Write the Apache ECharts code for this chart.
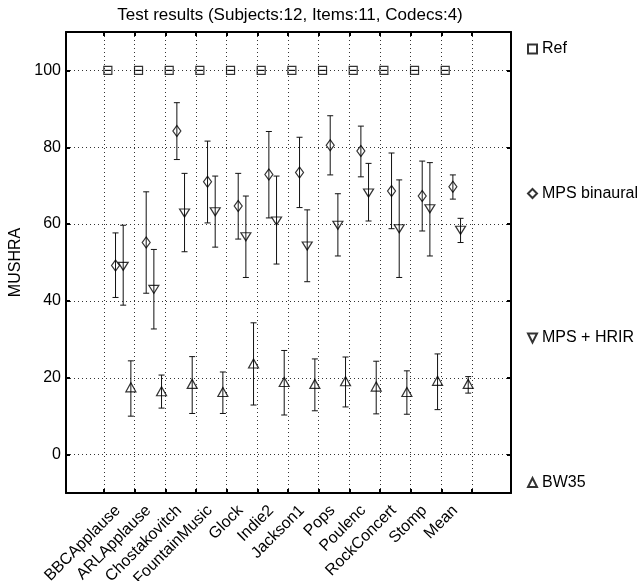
<!DOCTYPE html>
<html>
<head>
<meta charset="utf-8">
<script src="https://cdn.jsdelivr.net/npm/echarts@6/dist/echarts.min.js"></script>
<style>
  html, body { margin: 0; padding: 0; background: #fff; }
  #chart { width: 639px; height: 581px; }
</style>
</head>
<body>
<div id="chart"></div>
<script>
// items on the x axis
const categories = ['BBCApplause', 'ARLApplause', 'Chostakovitch', 'FountainMusic', 'Glock', 'Indie2',
  'Jackson1', 'Pops', 'Poulenc', 'RockConcert', 'Stomp', 'Mean']
const codecs = ['Ref', 'MPS binaural', 'MPS + HRIR', 'BW35']

// mean scores and confidence interval per codec
const refMean = [100, 100, 100, 100, 100, 100, 100, 100, 100, 100, 100, 100]
const refLow = [100, 100, 100, 100, 100, 100, 100, 100, 100, 100, 100, 100]
const refHigh = [100, 100, 100, 100, 100, 100, 100, 100, 100, 100, 100, 100]

const binMean = [49.2, 55.2, 84.2, 71.0, 64.7, 72.9, 73.4, 80.5, 79.0, 68.6, 67.3, 69.7]
const binLow = [40.9, 42.0, 76.8, 60.3, 56.1, 61.6, 64.3, 72.8, 72.3, 58.8, 58.2, 66.5]
const binHigh = [57.7, 68.4, 91.6, 81.6, 73.2, 84.1, 82.6, 88.2, 85.5, 78.5, 76.4, 72.8]

const hrirMean = [49.0, 43.0, 62.9, 63.2, 56.7, 60.8, 54.3, 59.7, 68.1, 58.8, 64.0, 58.4]
const hrirLow = [38.9, 32.7, 52.8, 54.0, 46.1, 49.6, 45.0, 51.7, 60.8, 46.1, 51.7, 55.2]
const hrirHigh = [59.7, 53.4, 73.2, 72.5, 67.3, 72.5, 63.7, 67.9, 75.8, 71.5, 76.0, 61.5]

const bwMean = [17.5, 16.5, 18.4, 16.3, 23.7, 18.9, 18.4, 19.1, 17.7, 16.3, 19.2, 18.4]
const bwLow = [10.0, 12.1, 10.7, 10.7, 12.9, 10.3, 11.4, 12.4, 10.6, 10.5, 11.7, 16.0]
const bwHigh = [24.4, 20.7, 25.5, 21.5, 34.3, 27.1, 24.9, 25.4, 24.3, 21.8, 26.2, 20.3]

// tick values
const yTicks = [0, 20, 40, 60, 80, 100]
const xTicks = [0, 1, 2, 3, 4, 5, 6, 7, 8, 9, 10, 11, 12]
const xLabelPos = [0.45, 1.45, 2.45, 3.45, 4.45, 5.45, 6.45, 7.45, 8.45, 9.45, 10.45, 11.45]

const FONT = 'Liberation Sans, Arial, sans-serif'

const codecSeries = [
  { mean: refMean, low: refLow, high: refHigh, off: 0.125, symbol: 'rect', size: [8, 8] },
  { mean: binMean, low: binLow, high: binHigh, off: 0.375, symbol: 'diamond', size: [8, 11] },
  { mean: hrirMean, low: hrirLow, high: hrirHigh, off: 0.625, symbol: 'path://M0,0L10,0L5,10Z', size: [10, 8] },
  { mean: bwMean, low: bwLow, high: bwHigh, off: 0.875, symbol: 'path://M5,0L10,10L0,10Z', size: [10, 9] }
]

// vertical bar with caps
const errorBarItem = (params, api) => {
  const x = api.value(0)
  const top = api.coord([x, api.value(2)])
  const bot = api.coord([x, api.value(1)])
  const w = 3
  const style = { stroke: '#111', lineWidth: 1 }
  return {
    type: 'group',
    children: [
      { type: 'line', shape: { x1: top[0], y1: top[1], x2: bot[0], y2: bot[1] }, style },
      { type: 'line', shape: { x1: top[0] - w, y1: top[1], x2: top[0] + w, y2: top[1] }, style },
      { type: 'line', shape: { x1: bot[0] - w, y1: bot[1], x2: bot[0] + w, y2: bot[1] }, style }
    ]
  }
}

const series = []
codecSeries.forEach((c, k) => {
  series.push({
    type: 'custom',
    renderItem: errorBarItem,
    encode: { x: 0, y: [1, 2] },
    data: categories.map((_, i) => [i + c.off, c.low[i], c.high[i]]),
    z: 2,
    silent: true
  })
  series.push({
    name: codecs[k],
    type: 'scatter',
    symbol: c.symbol,
    symbolSize: c.size,
    itemStyle: { color: 'rgba(0,0,0,0)', borderColor: '#000', borderWidth: 1.2 },
    data: categories.map((_, i) => [i + c.off, c.mean[i]]),
    z: 3
  })
})

const axisLine = { show: true, onZero: false, lineStyle: { color: '#000', width: 2 } }
const tick = { show: true, inside: true, length: 4, lineStyle: { color: '#000', width: 2 } }
const dotted = { show: true, lineStyle: { color: '#333', type: [1, 3], width: 1 } }

const xMin = -1.24
const xMax = 13.27

const chart = echarts.init(document.getElementById('chart'))
chart.setOption({
  animation: false,
  backgroundColor: '#fff',
  graphic: [{
    type: 'text',
    x: 290,
    y: 15,
    style: {
      text: 'Test results (Subjects:12, Items:11, Codecs:4)',
      font: '17px ' + FONT,
      fill: '#000',
      textAlign: 'center',
      textVerticalAlign: 'middle'
    }
  }],
  grid: { left: 66, right: 128, top: 32, bottom: 88, containLabel: false, outerBoundsMode: 'none' },
  legend: {
    data: codecs,
    orient: 'vertical',
    left: 527,
    top: 40,
    padding: 0,
    itemWidth: 9,
    itemHeight: 9,
    itemGap: 126.5,
    textStyle: { color: '#000', fontSize: 16, fontFamily: FONT, lineHeight: 18 }
  },
  xAxis: [{
    type: 'value',
    min: xMin,
    max: xMax,
    axisLine,
    axisTick: { ...tick, customValues: xTicks },
    splitLine: dotted,
    axisLabel: {
      customValues: xLabelPos,
      rotate: 45,
      margin: 15,
      color: '#000',
      fontSize: 16,
      fontFamily: FONT,
      formatter: (v) => categories[Math.round(v - 0.45)] || ''
    }
  }, {
    type: 'value',
    position: 'top',
    min: xMin,
    max: xMax,
    axisLine,
    axisTick: { ...tick, customValues: xTicks },
    splitLine: { show: false },
    axisLabel: { show: false }
  }],
  yAxis: [{
    type: 'value',
    min: -10,
    max: 110,
    name: 'MUSHRA',
    nameLocation: 'middle',
    nameGap: 31,
    nameTextStyle: { color: '#000', fontSize: 16, fontFamily: FONT },
    axisLine,
    axisTick: { ...tick, customValues: yTicks },
    splitLine: dotted,
    axisLabel: { customValues: yTicks, margin: 5, color: '#000', fontSize: 16, fontFamily: FONT }
  }, {
    type: 'value',
    position: 'right',
    min: -10,
    max: 110,
    axisLine,
    axisTick: { ...tick, customValues: yTicks },
    splitLine: { show: false },
    axisLabel: { show: false }
  }],
  series
})
</script>
</body>
</html>
